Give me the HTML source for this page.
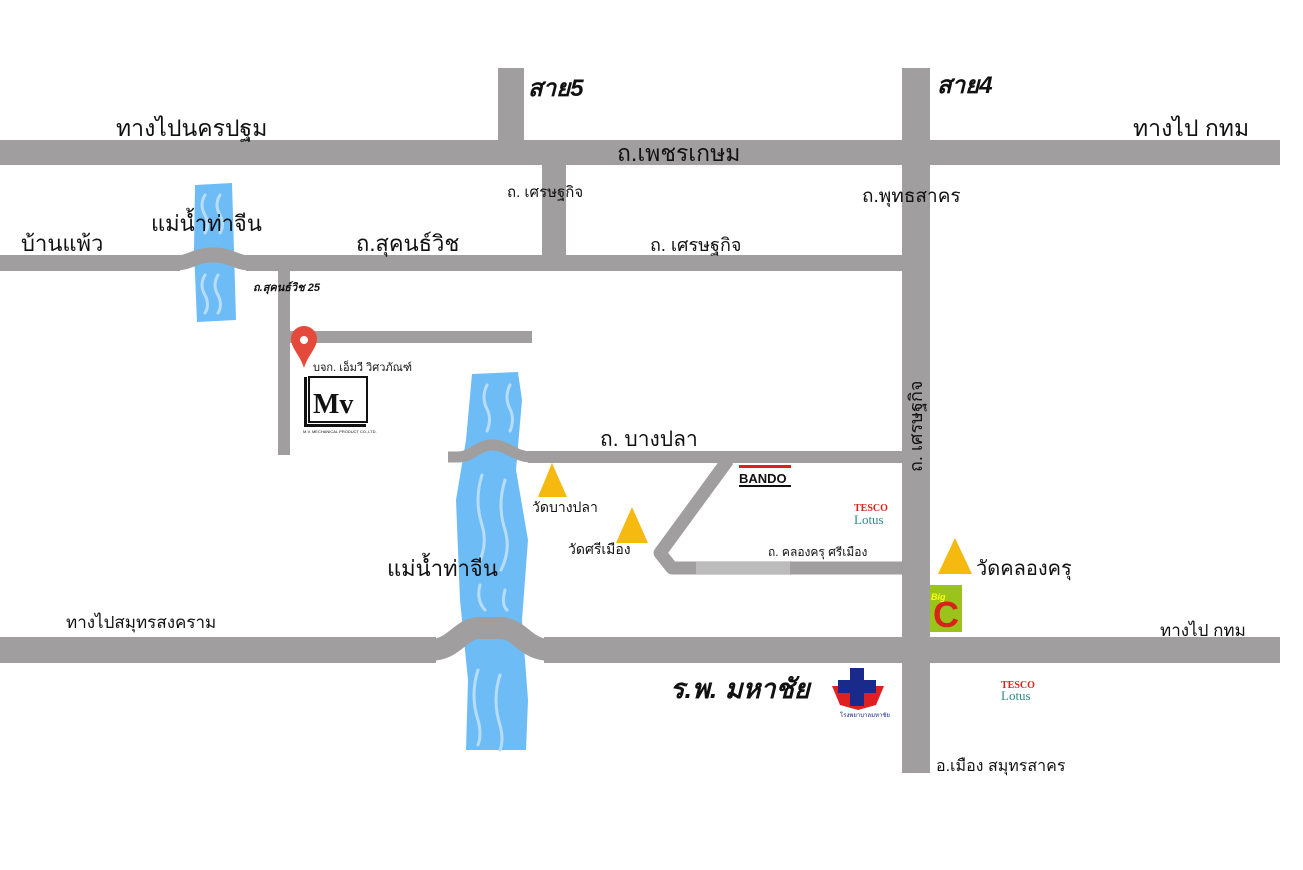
<!DOCTYPE html>
<html><head><meta charset="utf-8"><style>
html,body{margin:0;padding:0;background:#fff}
svg{display:block}
text{font-family:"Liberation Sans","Noto Sans CJK SC",sans-serif;fill:#111}
.b{font-style:italic;font-weight:bold}
</style></head><body>
<svg width="1303" height="870" viewBox="0 0 1303 870" xmlns="http://www.w3.org/2000/svg">
<rect width="1303" height="870" fill="#fff"/>
<!-- rivers -->
<g fill="#6ebcf6">
<path d="M195,185 L232,183 L234,250 L236,320 L197,322 L194,250 Z"/>
<path d="M472,374 L518,372 L522,400 L516,470 L528,540 L522,620 L528,700 L526,750 L466,750 L468,680 L460,600 L456,500 L466,440 Z"/>
</g>
<g fill="none" stroke="#b8ddfa" stroke-width="3" stroke-linecap="round">
<path d="M205,195 q-6,10 0,20 q5,10 0,18"/><path d="M220,195 q-6,10 0,20 q5,10 0,18"/>
<path d="M205,275 q-6,10 0,20 q5,10 0,18"/><path d="M218,275 q-6,10 0,20 q5,10 0,18"/>
<path d="M487,385 q-6,12 0,24 q5,10 0,22"/><path d="M510,385 q-6,12 0,24 q5,10 0,22"/>
<path d="M482,475 q-8,25 0,50 q6,20 -4,40"/><path d="M505,480 q-8,25 0,50 q6,20 -4,40"/>
<path d="M480,585 q-4,15 5,25"/><path d="M505,590 q-4,15 2,20"/>
<path d="M478,670 q-8,25 0,50 q4,15 0,25"/><path d="M500,675 q-8,25 0,50 q4,15 0,25"/>
</g>
<!-- roads -->
<g fill="#a09e9f">
<rect x="0" y="140" width="1280" height="25"/>
<rect x="498" y="68" width="26" height="75"/>
<rect x="902" y="68" width="28" height="705"/>
<rect x="0" y="255" width="180" height="16"/>
<rect x="246" y="255" width="656" height="16"/>
<rect x="542" y="163" width="24" height="94"/>
<rect x="278" y="270" width="12" height="185"/>
<rect x="290" y="331" width="242" height="12"/>
<rect x="0" y="637" width="436" height="26"/>
<rect x="544" y="637" width="736" height="26"/>
<rect x="528" y="451" width="374" height="12"/>
</g>
<g fill="none" stroke="#a09e9f" stroke-linejoin="round">
<path d="M176,263 C190,263 195,255 213,255 C231,255 236,263 250,263" stroke-width="15"/>
<path d="M448,457 L458,457 C472,457 478,445 492,445 C508,445 514,457 532,457" stroke-width="11"/>
<path d="M430,650 C455,650 460,628 480,628 L500,628 C520,628 525,650 550,650" stroke-width="22"/>
<path d="M728,460 L660,553 L672,568 L902,568" stroke-width="13"/>
</g>
<rect x="696" y="562" width="94" height="12" fill="#bcbcbc"/>
<!-- pin -->
<path d="M304,368 C300,355 291,348 291,339 A13,13 0 0 1 317,339 C317,348 308,355 304,368Z" fill="#e4493c"/>
<circle cx="304" cy="340" r="4" fill="#fff"/>
<!-- Mv logo -->
<rect x="304" y="377" width="3" height="50" fill="#111"/><rect x="304" y="424" width="62" height="3" fill="#111"/>
<rect x="309" y="377" width="58" height="45" fill="none" stroke="#111" stroke-width="2"/>
<text x="313" y="413" style="font-family:'Liberation Serif',serif;font-weight:bold;font-size:28px">Mv</text>
<text x="303" y="433" style="font-size:4px">M.V. MECHANICAL PRODUCT CO.,LTD.</text>
<!-- triangles -->
<g fill="#f5b910">
<polygon points="552,463 538,497 567,497"/>
<polygon points="632,507 616,543 648,543"/>
<polygon points="955,538 938,574 972,574"/>
</g>
<!-- Big C -->
<rect x="930" y="585" width="32" height="47" fill="#9ac41c"/>
<text x="933" y="627" style="font-weight:bold;font-size:36px;fill:#d8221a">C</text>
<text x="931" y="600" style="font-weight:bold;font-style:italic;font-size:9px;fill:#ff0">Big</text>
<!-- BANDO -->
<rect x="739" y="465" width="52" height="3" fill="#d8221a"/>
<text x="739" y="483" style="font-weight:bold;font-size:13px">BANDO</text>
<rect x="739" y="485" width="52" height="2" fill="#111"/>
<!-- Tesco -->
<text x="854" y="511" style="font-family:'Liberation Serif',serif;font-weight:bold;font-size:10px;fill:#d8221a">TESCO</text>
<text x="854" y="524" style="font-family:'Liberation Serif',serif;font-size:13px;fill:#2a8b8b">Lotus</text>
<text x="1001" y="688" style="font-family:'Liberation Serif',serif;font-weight:bold;font-size:10px;fill:#d8221a">TESCO</text>
<text x="1001" y="700" style="font-family:'Liberation Serif',serif;font-size:13px;fill:#2a8b8b">Lotus</text>
<!-- hospital -->
<path d="M832,686 L884,686 L876,705 L858,710 L840,705 Z" fill="#e02020"/>
<rect x="850" y="668" width="14" height="38" fill="#1a2a8a"/><rect x="838" y="680" width="38" height="13" fill="#1a2a8a"/>
<text x="840" y="717" style="font-size:6px;fill:#1a2a8a">โรงพยาบาลมหาชัย</text>
<!-- labels -->
<g class="b">
<text x="528" y="96" style="font-size:24px">สาย5</text>
<text x="937" y="93" style="font-size:24px">สาย4</text>
</g>
<g style="font-size:22px">
<text x="116" y="136" style="font-size:23px">ทางไปนครปฐม</text>
<text x="1133" y="136" style="font-size:23px">ทางไป กทม</text>
<text x="617" y="161" style="font-size:23px">ถ.เพชรเกษม</text>
<text x="151" y="231">แม่น้ำท่าจีน</text>
<text x="21" y="251">บ้านแพ้ว</text>
<text x="356" y="251">ถ.สุคนธ์วิช</text>
<text x="650" y="251" style="font-size:18px">ถ. เศรษฐกิจ</text>
<text x="507" y="197" style="font-size:15px">ถ. เศรษฐกิจ</text>
<text x="862" y="202" style="font-size:19px">ถ.พุทธสาคร</text>
<text x="600" y="446" style="font-size:21px">ถ. บางปลา</text>
<text x="387" y="576">แม่น้ำท่าจีน</text>
<text x="66" y="628" style="font-size:17px">ทางไปสมุทรสงคราม</text>
<text x="1160" y="636" style="font-size:17px">ทางไป กทม</text>
<text x="976" y="575" style="font-size:20px">วัดคลองครุ</text>
<text x="670" y="698" class="b" style="font-size:27px">ร.พ. มหาชัย</text>
<text x="936" y="771" style="font-size:16px">อ.เมือง สมุทรสาคร</text>
</g>
<text x="253" y="291" style="font-size:11px;font-weight:bold;font-style:italic">ถ.สุคนธ์วิช 25</text>
<text x="313" y="371" style="font-size:11px">บจก. เอ็มวี วิศวภัณฑ์</text>
<text x="532" y="512" style="font-size:14px">วัดบางปลา</text>
<text x="568" y="554" style="font-size:14px">วัดศรีเมือง</text>
<text x="768" y="556" style="font-size:12px">ถ. คลองครุ ศรีเมือง</text>
<text transform="translate(922,472) rotate(-90)" style="font-size:18px">ถ. เศรษฐกิจ</text>
</svg>
</body></html>
